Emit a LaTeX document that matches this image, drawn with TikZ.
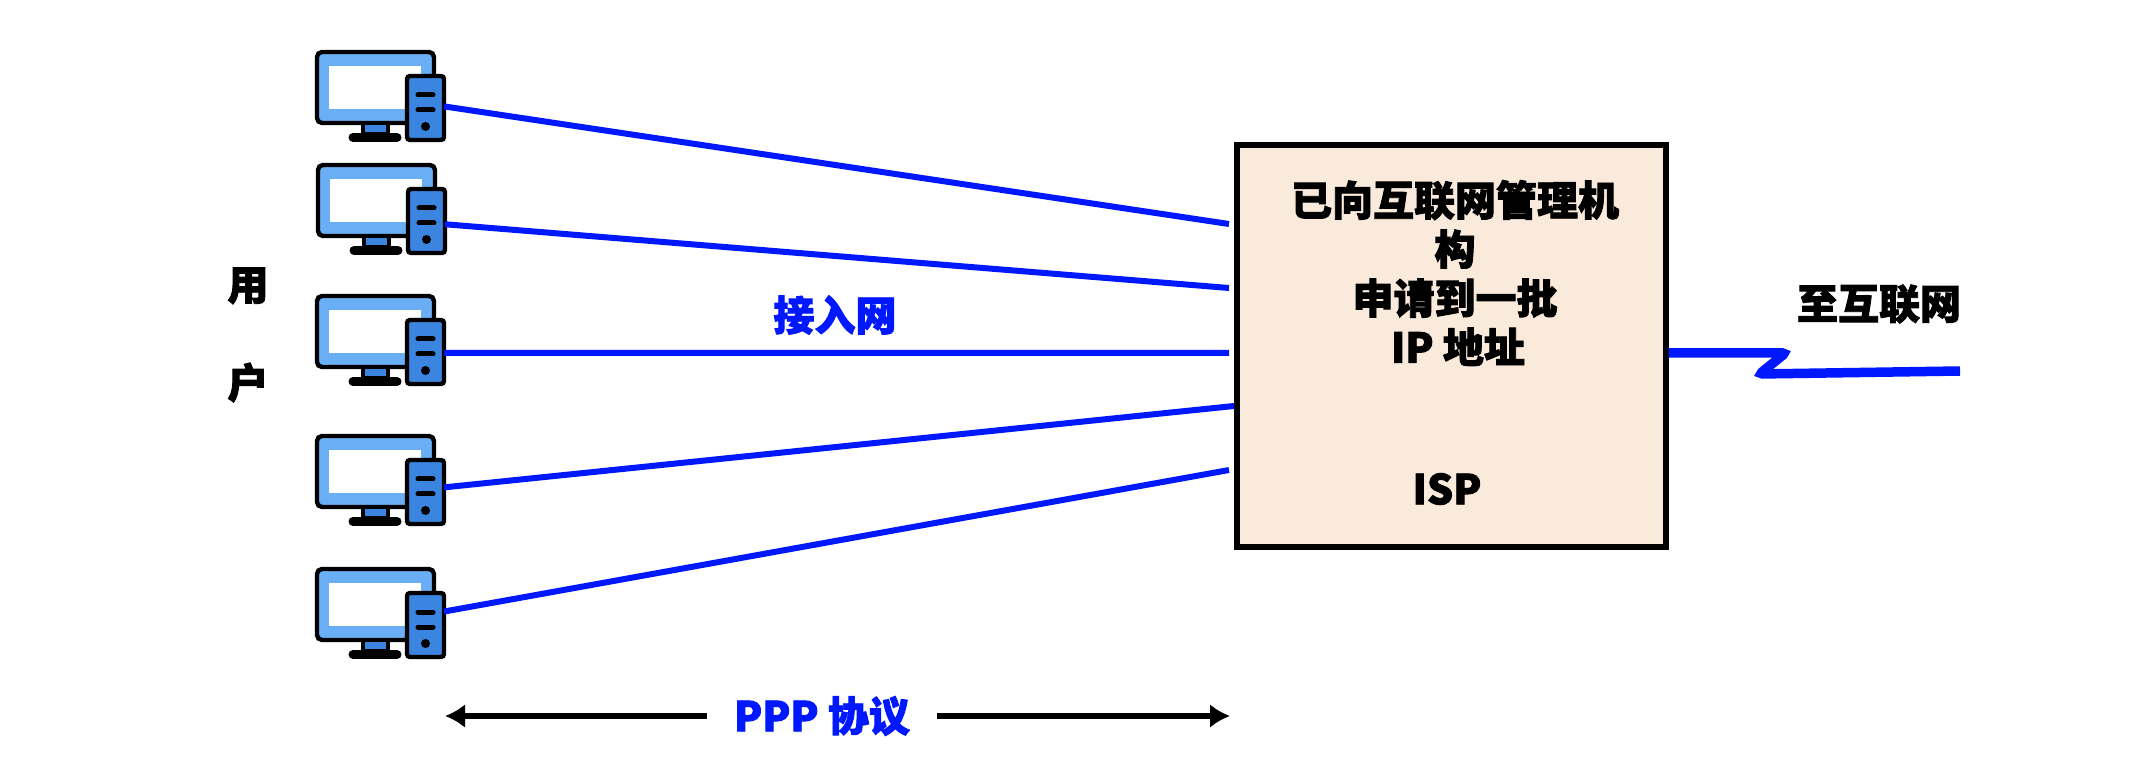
\documentclass[tikz,border=0pt]{standalone}
\usepackage{fontspec}
\setmainfont[BoldFeatures={FakeBold=2.2}]{Noto Sans CJK SC}
\usetikzlibrary{arrows.meta}
\definecolor{linkBlue}{HTML}{0018FF}
\definecolor{screenBlue}{HTML}{6AAEF5}
\definecolor{towerBlue}{HTML}{3B84E0}
\definecolor{ispFill}{HTML}{F9EADC}
\tikzset{
  lbl/.style={font=\bfseries\fontsize{20.5pt}{24.5pt}\selectfont,align=center,inner sep=0pt},
  link/.style={draw=linkBlue,line width=3pt},
  ispbox/.style={draw,fill=ispFill,line width=3pt,minimum width=214.5pt,minimum height=201pt,inner sep=0pt},
  pc/.pic={
    \draw[fill=screenBlue,line width=2.2pt,rounded corners=2.5pt] (2,2) rectangle (119,73);
    \fill[white] (14,16) rectangle (106,59);
    \draw[fill=towerBlue,line width=2.2pt] (48,73) rectangle (73,84);
    \draw[line width=4.5pt,line cap=round] (38,87.5) -- (82,87.5);
    \node[draw,fill=towerBlue,line width=2.2pt,rounded corners=1.5pt,minimum width=18.5pt,minimum height=32pt,inner sep=0pt,outer sep=0pt] (-tower) at (110.5,58) {};
    \draw[line width=2.5pt,line cap=round] (103,45) -- (118,45);
    \draw[line width=2.5pt,line cap=round] (103,60) -- (118,60);
    \fill (110.5,76.5) circle (4.5);
  }
}
\begin{document}
\begin{tikzpicture}[x=0.5pt,y=-0.5pt,>={Latex[length=10pt,width=12pt]}]
  \useasboundingbox (0,0) rectangle (2146,774);
  \node[ispbox] (isp) at (1451,346.5) {};
  % ends of the access lines, just off the box
  \coordinate (in1) at (1229,224);
  \coordinate (in2) at (1229,288);
  \coordinate (in3) at (1229,353);
  \coordinate (in4) at (1234,406);
  \coordinate (in5) at (1229,470);
  \coordinate (wanout) at (1960,371);
  \coordinate (pppleft) at (445,716);
  \coordinate (pppright) at (1230,716);
  \pic (pc1) at (315,50) {pc};
  \pic (pc2) at (316,163) {pc};
  \pic (pc3) at (315,294) {pc};
  \pic (pc4) at (315,434) {pc};
  \pic (pc5) at (315,567) {pc};
  \draw[link] (pc1-tower.5) -- (in1);
  \draw[link] (pc2-tower.-10) -- (in2);
  \draw[link] (pc3-tower.-3) -- (in3);
  \draw[link] (pc4-tower.14) -- (in4);
  \draw[link] (pc5-tower.36) -- (in5);
  \node[lbl] (info) at (1455,273) {已向互联网管理机\\构\\申请到一批\\\hspace*{3pt}IP 地址};
  \node[lbl] (name) at (1447,489) {ISP};
  \node[lbl] (users) at (248,335) {用\\[24.5pt]户};
  \node[lbl,text=linkBlue] (access) at (835,315) {接入网};
  \node[lbl] (inet) at (1879,304) {至互联网};
  \node[lbl,text=linkBlue,inner xsep=13.5pt] (ppp) at (822,716) {PPP 协议};
  \draw[->,line width=3pt] (ppp.west) -- (pppleft);
  \draw[->,line width=3pt] (ppp.east) -- (pppright);
  \draw[draw=linkBlue,line width=4.75pt,rounded corners=1.5pt] ([yshift=-3.25pt]isp.east) -- ++(117,0) -- ++(-26,21) -- (wanout);
\end{tikzpicture}
\end{document}
